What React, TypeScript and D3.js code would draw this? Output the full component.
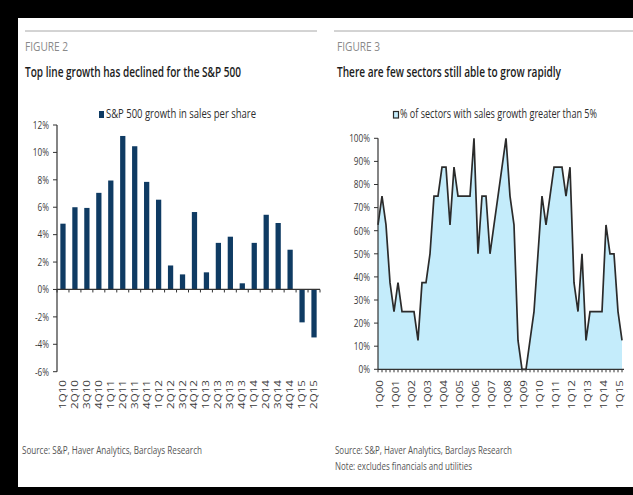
import React from "react";
import * as d3 from "d3";

// ---------- Data ----------
const barCategories = [
  "1Q10", "2Q10", "3Q10", "4Q10", "1Q11", "2Q11", "3Q11", "4Q11",
  "1Q12", "2Q12", "3Q12", "4Q12", "1Q13", "2Q13", "3Q13", "4Q13",
  "1Q14", "2Q14", "3Q14", "4Q14", "1Q15", "2Q15",
];
const barValues = [
  4.8, 6.0, 5.95, 7.05, 7.95, 11.2, 10.45, 7.85,
  6.55, 1.75, 1.1, 5.65, 1.25, 3.4, 3.85, 0.45,
  3.4, 5.45, 4.85, 2.9, -2.4, -3.5,
];
const barTicks = [-6, -4, -2, 0, 2, 4, 6, 8, 10, 12];

const years = ["00","01","02","03","04","05","06","07","08","09","10","11","12","13","14","15"];
const quarters = years.flatMap((y) => ["1Q", "2Q", "3Q", "4Q"].map((q) => q + y)).slice(0, 62);
const sectorValues = [
  62.5, 75, 62.5, 37.5, 25, 37.5, 25, 25, 25, 25, 12.5, 37.5, 37.5, 50, 75, 75,
  87.5, 87.5, 62.5, 87.5, 75, 75, 75, 75, 100, 50, 75, 75, 50, 62.5, 75, 87.5,
  100, 75, 62.5, 12.5, 0, 0, 12.5, 25, 50, 75, 62.5, 75, 87.5, 87.5, 87.5, 75,
  87.5, 37.5, 25, 50, 12.5, 25, 25, 25, 25, 62.5, 50, 50, 25, 12.5,
];
const sectorTickLabels = ["1Q00","1Q01","1Q02","1Q03","1Q04","1Q05","1Q06","1Q07","1Q08","1Q09","1Q10","1Q11","1Q12","1Q13","1Q14","1Q15"];
const sectorTicks = [0, 10, 20, 30, 40, 50, 60, 70, 80, 90, 100];

// ---------- Styles ----------
const FONT = "'Open Sans', 'Noto Sans', sans-serif";
const SY = 1.4; // vertical stretch of the source image
const NAVY = "#0f3b63";
const FILL = "#c4ecfb";
const LINE = "#2b2b2b";
const AXIS = "#333";

function T({ x, y, children, size, color = "#333", anchor = "start", len, rotate = false, weight = 400 }: any) {
  const tr = `translate(${x},${y}) scale(1,${SY})${rotate ? " rotate(-90)" : ""}`;
  return (
    <text
      transform={tr}
      fontFamily={FONT}
      fontSize={size}
      fill={color}
      textAnchor={anchor}
      fontWeight={weight}
      {...(len ? { textLength: len, lengthAdjust: "spacingAndGlyphs" } : {})}
    >
      {children}
    </text>
  );
}

export default function App() {
  // Left chart scales
  const bx = d3.scaleBand<string>().domain(barCategories).range([57, 320]).paddingInner(0.56).paddingOuter(0.28);
  const by = d3.scaleLinear().domain([-6, 12]).range([371.7, 125]);

  // Right chart scales
  const sx = d3.scaleLinear().domain([0, quarters.length - 1]).range([378, 622]);
  const sy = d3.scaleLinear().domain([0, 100]).range([369.3, 138.3]);
  const area = d3.area<number>().x((_, i) => sx(i)).y0(sy(0)).y1((d) => sy(d));
  const line = d3.line<number>().x((_, i) => sx(i)).y((d) => sy(d));

  const boundaries = d3.range(barCategories.length + 1).map((i) => 57 + (i * (320 - 57)) / barCategories.length);

  return (
    <svg width={633} height={495} style={{ position: "absolute", left: 0, top: 0, background: "#fff" }}>
      <rect width={633} height={495} fill="#fff" />

      {/* Headers */}
      <line x1={25} x2={317} y1={31} y2={31} stroke="#a8a8a8" />
      <line x1={334} x2={633} y1={31} y2={31} stroke="#a8a8a8" />
      <T x={25} y={51} size={8.5} color="#8a8a8a" len={43}>FIGURE 2</T>
      <T x={25} y={77} size={10} color="#1c1c1c" len={216} weight={600}>Top line growth has declined for the S&amp;P 500</T>
      <T x={337} y={51} size={8.5} color="#8a8a8a" len={43}>FIGURE 3</T>
      <T x={337} y={77} size={10} color="#1c1c1c" len={224} weight={600}>There are few sectors still able to grow rapidly</T>

      {/* Legends */}
      <rect x={99} y={111} width={5} height={7} fill={NAVY} />
      <T x={106} y={118} size={8.5} color="#2e2e2e" len={150}>S&amp;P 500 growth in sales per share</T>
      <rect x={393.5} y={111.5} width={5} height={6.5} fill={FILL} stroke={LINE} strokeWidth={1.2} />
      <T x={400} y={118} size={8.5} color="#2e2e2e" len={197}>% of sectors with sales growth greater than 5%</T>

      {/* Left chart */}
      <g>
        {barTicks.map((t) => (
          <g key={t}>
            <line x1={53} x2={57} y1={by(t)} y2={by(t)} stroke={AXIS} />
            <T x={49} y={by(t) + 3.8} size={8.2} anchor="end" color="#3a3a3a">{`${t}%`}</T>
          </g>
        ))}
        {barValues.map((v, i) => (
          <rect
            key={i}
            x={bx(barCategories[i])!}
            width={bx.bandwidth()}
            y={by(Math.max(0, v))}
            height={Math.abs(by(v) - by(0))}
            fill={NAVY}
          />
        ))}
        <line x1={57} x2={57} y1={by(12)} y2={by(-6)} stroke={AXIS} strokeWidth={1.2} />
        <line x1={57} x2={320} y1={by(0)} y2={by(0)} stroke={AXIS} strokeWidth={1.2} />
        {boundaries.map((b, i) => (
          <line key={i} x1={b} x2={b} y1={by(0)} y2={by(0) + 3} stroke={AXIS} />
        ))}
        {barCategories.map((c) => (
          <T key={c} x={bx(c)! + bx.bandwidth() / 2 + 3} y={380} size={8.3} anchor="end" rotate color="#3a3a3a">{c}</T>
        ))}
      </g>

      {/* Right chart */}
      <g>
        <path d={area(sectorValues)!} fill={FILL} />
        <path d={line(sectorValues)!} fill="none" stroke={LINE} strokeWidth={1.7} strokeLinejoin="miter" />
        {sectorTicks.map((t) => (
          <g key={t}>
            <line x1={374} x2={378} y1={sy(t)} y2={sy(t)} stroke={AXIS} />
            <T x={370} y={sy(t) + 3.8} size={8.2} anchor="end" color="#3a3a3a">{`${t}%`}</T>
          </g>
        ))}
        <line x1={378} x2={378} y1={sy(100)} y2={sy(0)} stroke={AXIS} strokeWidth={1.2} />
        <line x1={378} x2={624} y1={sy(0)} y2={sy(0)} stroke={AXIS} strokeWidth={1.2} />
        {quarters.map((q, i) => (
          <line key={q} x1={sx(i)} x2={sx(i)} y1={sy(0)} y2={sy(0) + 3} stroke={AXIS} />
        ))}
        {sectorTickLabels.map((l) => {
          const i = quarters.indexOf(l);
          return (
            <T key={l} x={sx(i) + 5} y={380} size={8.3} anchor="end" rotate color="#3a3a3a">{l}</T>
          );
        })}
      </g>

      {/* Sources */}
      <T x={22} y={454} size={7.8} color="#555" len={180}>Source: S&amp;P, Haver Analytics, Barclays Research</T>
      <T x={335} y={454} size={7.8} color="#555" len={177}>Source: S&amp;P, Haver Analytics, Barclays Research</T>
      <T x={335} y={470} size={7.8} color="#555" len={137}>Note: excludes financials and utilities</T>

      {/* Black frame */}
      <rect x={0} y={0} width={633} height={18} fill="#000" />
      <rect x={0} y={0} width={18} height={495} fill="#000" />
      <rect x={0} y={487} width={633} height={8} fill="#000" />
    </svg>
  );
}
